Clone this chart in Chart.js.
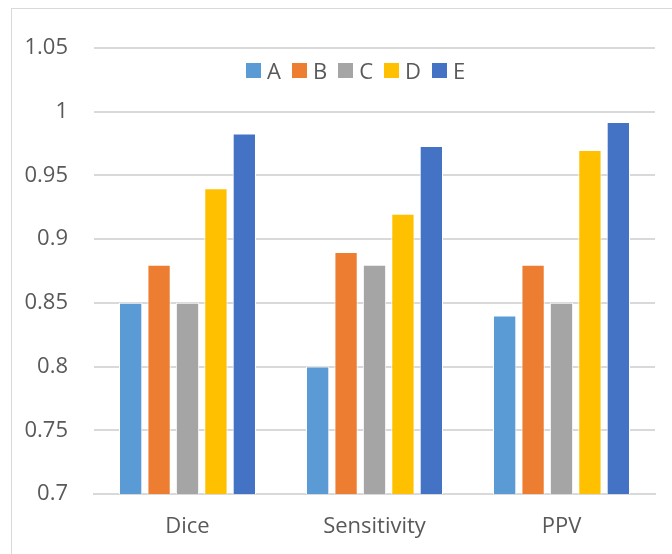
<!DOCTYPE html>
<html>
<head>
<meta charset="utf-8">
<script src="https://cdn.jsdelivr.net/npm/chart.js@4/dist/chart.umd.min.js"></script>
<style>
  html, body { margin: 0; padding: 0; background: #fff; }
  #wrap { position: relative; width: 672px; height: 554px; overflow: hidden; }
  #frame {
    position: absolute; left: 11px; top: 8px; width: 700px; height: 600px;
    border: 1.5px solid #d9d9d9; box-sizing: border-box;
  }
  canvas { position: absolute; left: 0; top: 0; }
  #legend {
    position: absolute; left: 246px; top: 55px; height: 30px;
    display: flex; align-items: center;
    font-family: "Open Sans", sans-serif; font-size: 22px; line-height: 30px; color: #595959;
  }
  #legend .item { display: flex; align-items: center; margin-right: 11px; }
  #legend .box { width: 15px; height: 15px; margin-right: 6px; }
</style>
</head>
<body>
<div id="wrap">
  <div id="frame"></div>
  <canvas id="chart" width="672" height="554"></canvas>
  <div id="legend"></div>
</div>
<script>
// data
const categories = ['Dice', 'Sensitivity', 'PPV'];
const seriesNames = ['A', 'B', 'C', 'D', 'E'];
const valuesA = [0.85, 0.80, 0.84];
const valuesB = [0.88, 0.89, 0.88];
const valuesC = [0.85, 0.88, 0.85];
const valuesD = [0.94, 0.92, 0.97];
const valuesE = [0.983, 0.973, 0.992];
const colors = ['#5B9BD5', '#ED7D31', '#A5A5A5', '#FFC000', '#4472C4'];

const allValues = [valuesA, valuesB, valuesC, valuesD, valuesE];
const font = { family: '"Open Sans", sans-serif', size: 22 };

const ctx = document.getElementById('chart').getContext('2d');
const chart = new Chart(ctx, {
    type: 'bar',
    data: {
        labels: categories,
        datasets: seriesNames.map((name, i) => ({
            label: name,
            data: allValues[i],
            backgroundColor: colors[i],
            borderColor: '#ffffff',
            borderWidth: 1,
            categoryPercentage: 0.76,
            barPercentage: 0.82
        }))
    },
    options: {
        responsive: false,
        animation: false,
        layout: { padding: { top: 48, right: 17, left: 0, bottom: 0 } },
        plugins: {
            legend: { display: false },
            tooltip: { enabled: false }
        },
        scales: {
            x: {
                grid: { display: false, drawTicks: false },
                border: { color: '#d9d9d9', width: 2 },
                ticks: { color: '#595959', font: font, padding: 20 },
                afterFit: function(axis) { axis.height = 60; }
            },
            y: {
                min: 0.7,
                max: 1.05,
                grid: { color: '#d9d9d9', lineWidth: 2, drawTicks: false },
                border: { display: false },
                ticks: {
                    stepSize: 0.05,
                    color: '#595959',
                    font: font,
                    padding: 26,
                    callback: function(v) { return parseFloat(v.toFixed(2)).toString(); }
                },
                afterFit: function(axis) { axis.width = 94; }
            }
        }
    }
});

// legend inside the plot area, built from the chart's datasets
const legendEl = document.getElementById('legend');
chart.data.datasets.forEach(ds => {
    const item = document.createElement('div');
    item.className = 'item';
    const box = document.createElement('span');
    box.className = 'box';
    box.style.background = ds.backgroundColor;
    const text = document.createElement('span');
    text.textContent = ds.label;
    item.appendChild(box);
    item.appendChild(text);
    legendEl.appendChild(item);
});
</script>
</body>
</html>
